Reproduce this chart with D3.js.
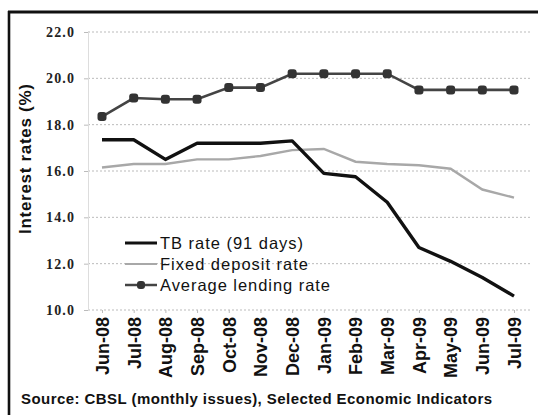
<!DOCTYPE html>
<html>
<head>
<meta charset="utf-8">
<script src="https://cdn.jsdelivr.net/npm/d3@7"></script>
<style>
  html, body { margin: 0; padding: 0; background: #fff; }
  svg { display: block; }
</style>
</head>
<body>
<svg id="chart" width="538" height="415"></svg>
<script>
// Monthly interest rates, June 2008 – July 2009
const months = ["Jun-08","Jul-08","Aug-08","Sep-08","Oct-08","Nov-08","Dec-08",
                "Jan-09","Feb-09","Mar-09","Apr-09","May-09","Jun-09","Jul-09"];
const tbRate       = [17.35, 17.35, 16.5, 17.2, 17.2, 17.2, 17.3, 15.9, 15.75, 14.65, 12.7, 12.1, 11.4, 10.6];
const fixedDeposit = [16.15, 16.3, 16.3, 16.5, 16.5, 16.65, 16.9, 16.95, 16.4, 16.3, 16.25, 16.1, 15.2, 14.85];
const lendingRate  = [18.35, 19.15, 19.1, 19.1, 19.6, 19.6, 20.2, 20.2, 20.2, 20.2, 19.5, 19.5, 19.5, 19.5];
const yTicks = [10, 12, 14, 16, 18, 20, 22];
const legendLabels = ["TB rate (91 days)", "Fixed deposit rate", "Average lending rate"];
const sourceNote = "Source: CBSL (monthly issues), Selected Economic Indicators";

const svg = d3.select("#chart");
const sans = "'Liberation Sans', Arial, sans-serif";

const x = d3.scalePoint().domain(months).range([102, 514]);
const y = d3.scaleLinear().domain([10, 22]).range([310, 32]);

// outer frame (top and left rules)
svg.append("line").attr("x1", 8).attr("x2", 538).attr("y1", 12).attr("y2", 12)
  .attr("stroke", "#111").attr("stroke-width", 2.8);
svg.append("line").attr("x1", 9).attr("x2", 9).attr("y1", 11).attr("y2", 415)
  .attr("stroke", "#111").attr("stroke-width", 2.6);

// horizontal grid
svg.append("g").selectAll("line").data(yTicks).join("line")
  .attr("x1", 88).attr("x2", 530)
  .attr("y1", d => y(d)).attr("y2", d => y(d))
  .attr("stroke", "#bbb").attr("stroke-width", 1).attr("stroke-dasharray", "2,2");

// y axis
const yAxis = svg.append("g").attr("transform", "translate(88,0)")
  .call(d3.axisLeft(y).tickValues(yTicks).tickSize(4).tickFormat(d3.format(".1f")));
yAxis.select(".domain").attr("stroke", "#ddd");
yAxis.selectAll(".tick line").attr("stroke", "#bbb");
yAxis.selectAll(".tick text")
  .attr("x", -13)
  .attr("font-family", "'Liberation Serif', serif")
  .attr("font-weight", "bold").attr("font-size", 14)
  .attr("letter-spacing", 1.1).attr("fill", "#222");

// x axis labels
const xAxis = svg.append("g").attr("transform", `translate(0,${y(10)})`)
  .call(d3.axisBottom(x).tickSize(3));
xAxis.select(".domain").remove();
xAxis.selectAll(".tick line").attr("stroke", "#bbb");
xAxis.selectAll(".tick text")
  .attr("transform", "rotate(-90)")
  .attr("text-anchor", "end")
  .attr("x", -7).attr("y", 0).attr("dy", "0.35em")
  .attr("font-family", sans)
  .attr("font-weight", "bold").attr("font-size", 18).attr("fill", "#111");

// y axis title
svg.append("text")
  .attr("transform", "translate(31,159) rotate(-90)")
  .attr("text-anchor", "middle")
  .attr("font-family", sans)
  .attr("font-weight", "bold").attr("font-size", 17).attr("fill", "#111")
  .attr("textLength", 150).attr("lengthAdjust", "spacing")
  .text("Interest rates (%)");

const line = d3.line().x((d, i) => x(months[i])).y(d => y(d));

// fixed deposit rate
svg.append("path").datum(fixedDeposit).attr("d", line)
  .attr("fill", "none").attr("stroke", "#a8a8a8").attr("stroke-width", 2.4);

// average lending rate
svg.append("path").datum(lendingRate).attr("d", line)
  .attr("fill", "none").attr("stroke", "#444").attr("stroke-width", 2.6);
svg.append("g").selectAll("rect").data(lendingRate).join("rect")
  .attr("x", (d, i) => x(months[i]) - 4.5).attr("y", d => y(d) - 4.5)
  .attr("width", 9).attr("height", 9).attr("rx", 3)
  .attr("fill", "#333");

// TB rate
svg.append("path").datum(tbRate).attr("d", line)
  .attr("fill", "none").attr("stroke", "#111").attr("stroke-width", 3.4)
  .attr("stroke-linejoin", "round");

// legend
const legendStyles = [
  { stroke: "#111", width: 3, marker: false, len: 143 },
  { stroke: "#a8a8a8", width: 2, marker: false, len: 148 },
  { stroke: "#444", width: 2.5, marker: true, len: 170 }
];
const legend = svg.append("g");
legendLabels.forEach((label, i) => {
  const ly = 243 + i * 21;
  const st = legendStyles[i];
  legend.append("line").attr("x1", 125).attr("x2", 157).attr("y1", ly).attr("y2", ly)
    .attr("stroke", st.stroke).attr("stroke-width", st.width);
  if (st.marker) {
    legend.append("rect").attr("x", 137).attr("y", ly - 4).attr("width", 8).attr("height", 8)
      .attr("rx", 3).attr("fill", "#333");
  }
  legend.append("text").attr("x", 160).attr("y", ly).attr("dy", "0.35em")
    .attr("font-family", sans)
    .attr("font-size", 16.5).attr("fill", "#111")
    .attr("textLength", st.len).attr("lengthAdjust", "spacing")
    .text(label);
});

// source note
svg.append("text").attr("x", 21).attr("y", 404)
  .attr("font-family", sans)
  .attr("font-weight", "bold").attr("font-size", 15).attr("fill", "#111")
  .attr("textLength", 471).attr("lengthAdjust", "spacing")
  .text(sourceNote);
</script>
</body>
</html>
